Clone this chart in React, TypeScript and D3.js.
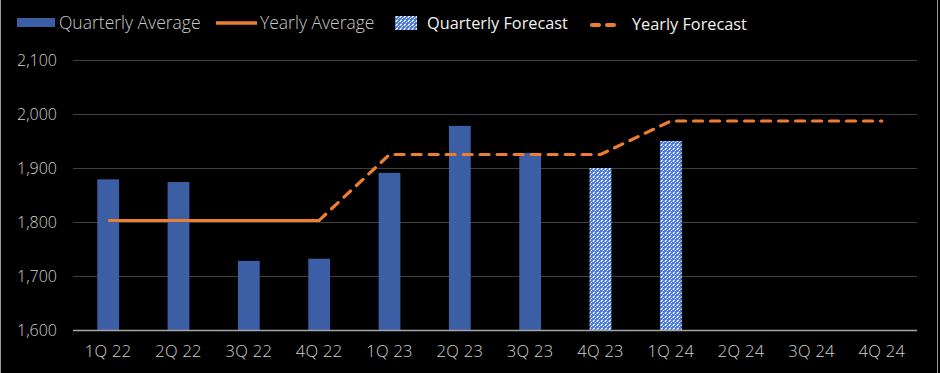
import React, { useEffect, useRef } from 'react';
import * as d3 from 'd3';

const quarters = ['1Q 22', '2Q 22', '3Q 22', '4Q 22', '1Q 23', '2Q 23', '3Q 23', '4Q 23', '1Q 24', '2Q 24', '3Q 24', '4Q 24'];
const quarterlyAverage: (number | null)[] = [1879, 1874, 1728, 1732, 1891, 1978, 1928, null, null, null, null, null];
const quarterlyForecast: (number | null)[] = [null, null, null, null, null, null, null, 1900, 1950, null, null, null];
const yearlyAverage: (number | null)[] = [1803, 1803, 1803, 1803, null, null, null, null, null, null, null, null];
const yearlyForecast: (number | null)[] = [null, null, null, 1803, 1925, 1925, 1925, 1925, 1987, 1987, 1987, 1987];
const yTicks = [1600, 1700, 1800, 1900, 2000, 2100];

const width = 940;
const height = 373;
const BAR = '#3b5ea5';
const ORANGE = '#ed7d31';
const FONT = "'Open Sans', 'Noto Sans', sans-serif";

const App: React.FC = () => {
   const svgRef = useRef<SVGSVGElement | null>(null);

   useEffect(() => {
      if (!svgRef.current) return;
      const svg = d3.select(svgRef.current);
      svg.selectAll('*').remove();

      const margin = { top: 60, right: 23, bottom: 43, left: 73 };
      const innerWidth = width - margin.left - margin.right;
      const innerHeight = height - margin.top - margin.bottom;

      svg.append('rect').attr('width', width).attr('height', height).attr('fill', '#000');
      // frame edges
      svg.append('line').attr('x1', 0.5).attr('x2', 0.5).attr('y1', 0).attr('y2', height).attr('stroke', '#9a9a9a');
      svg.append('line').attr('x1', width - 2.5).attr('x2', width - 2.5).attr('y1', 0).attr('y2', height).attr('stroke', '#9a9a9a');

      // forecast pattern: small blue/white checks
      const defs = svg.append('defs');
      const pat = defs.append('pattern')
         .attr('id', 'fc-pattern')
         .attr('patternUnits', 'userSpaceOnUse')
         .attr('width', 4)
         .attr('height', 4);
      pat.append('rect').attr('width', 4).attr('height', 4).attr('fill', '#4a7ad6');
      pat.append('rect').attr('x', 0).attr('y', 0).attr('width', 2).attr('height', 1).attr('fill', '#dfe8fb');
      pat.append('rect').attr('x', 0).attr('y', 0).attr('width', 1).attr('height', 2).attr('fill', '#dfe8fb');
      pat.append('rect').attr('x', 2).attr('y', 2).attr('width', 1).attr('height', 1).attr('fill', '#ffffff');
      pat.append('rect').attr('x', 3).attr('y', 1).attr('width', 1).attr('height', 1).attr('fill', '#9ab6ec');
      pat.append('rect').attr('x', 1).attr('y', 3).attr('width', 1).attr('height', 1).attr('fill', '#9ab6ec');

      const x = d3.scaleBand().domain(quarters).range([0, innerWidth]).paddingInner(0.69).paddingOuter(0.345);
      const y = d3.scaleLinear().domain([1600, 2100]).range([innerHeight, 0]);
      const cx = (q: string) => x(q)! + x.bandwidth() / 2;

      const g = svg.append('g').attr('transform', `translate(${margin.left},${margin.top})`);

      // gridlines
      g.selectAll('.grid')
         .data(yTicks.slice(1))
         .enter()
         .append('line')
         .attr('x1', 0)
         .attr('x2', innerWidth)
         .attr('y1', d => Math.round(y(d)) + 0.5)
         .attr('y2', d => Math.round(y(d)) + 0.5)
         .attr('stroke', '#3f3f3f')
         .attr('stroke-width', 1);

      // y tick labels
      g.selectAll('.ylab')
         .data(yTicks)
         .enter()
         .append('text')
         .attr('x', -16)
         .attr('y', d => y(d))
         .attr('dy', '0.35em')
         .attr('text-anchor', 'end')
         .attr('fill', '#d0d0d0')
         .attr('font-family', FONT)
         .attr('font-weight', 300)
         .attr('font-size', 16)
         .text(d => d3.format(',')(d));

      // bars
      const barData = quarters.map((q, i) => ({ q, v: quarterlyAverage[i] })).filter(d => d.v != null);
      g.selectAll('.bar')
         .data(barData)
         .enter()
         .append('rect')
         .attr('x', d => x(d.q)!)
         .attr('y', d => y(d.v!))
         .attr('width', x.bandwidth())
         .attr('height', d => innerHeight - y(d.v!))
         .attr('fill', BAR);

      const fcData = quarters.map((q, i) => ({ q, v: quarterlyForecast[i] })).filter(d => d.v != null);
      g.selectAll('.fbar')
         .data(fcData)
         .enter()
         .append('rect')
         .attr('x', d => x(d.q)!)
         .attr('y', d => y(d.v!))
         .attr('width', x.bandwidth())
         .attr('height', d => innerHeight - y(d.v!))
         .attr('fill', 'url(#fc-pattern)');

      // x axis line
      g.append('line')
         .attr('x1', 0)
         .attr('x2', innerWidth)
         .attr('y1', innerHeight + 0.5)
         .attr('y2', innerHeight + 0.5)
         .attr('stroke', '#a6a6a6')
         .attr('stroke-width', 1.5);

      // x labels
      g.selectAll('.xlab')
         .data(quarters)
         .enter()
         .append('text')
         .attr('x', d => cx(d))
         .attr('y', innerHeight + 27)
         .attr('text-anchor', 'middle')
         .attr('fill', '#d0d0d0')
         .attr('font-family', FONT)
         .attr('font-weight', 300)
         .attr('font-size', 16.5)
         .attr('letter-spacing', 0.3)
         .text(d => d);

      // lines
      const line = d3.line<{ q: string; v: number | null }>()
         .defined(d => d.v != null)
         .x(d => cx(d.q))
         .y(d => y(d.v!));

      g.append('path')
         .datum(quarters.map((q, i) => ({ q, v: yearlyAverage[i] })))
         .attr('d', line)
         .attr('fill', 'none')
         .attr('stroke', ORANGE)
         .attr('stroke-width', 3);

      g.append('path')
         .datum(quarters.map((q, i) => ({ q, v: yearlyForecast[i] })))
         .attr('d', line)
         .attr('fill', 'none')
         .attr('stroke', ORANGE)
         .attr('stroke-width', 3.2)
         .attr('stroke-linecap', 'round')
         .attr('stroke-dasharray', '9 8');

      // legend
      const lg = svg.append('g');
      const ly = 23;
      lg.append('rect').attr('x', 17).attr('y', 18).attr('width', 38).attr('height', 9).attr('fill', BAR);
      lg.append('text').attr('x', 59).attr('y', ly).attr('dy', '0.35em')
         .attr('fill', '#c8c8c8').attr('font-family', FONT).attr('font-weight', 300).attr('font-size', 17.5)
         .text('Quarterly Average');
      lg.append('line').attr('x1', 216).attr('x2', 257).attr('y1', ly).attr('y2', ly)
         .attr('stroke', ORANGE).attr('stroke-width', 3.5);
      lg.append('text').attr('x', 260).attr('y', ly).attr('dy', '0.35em')
         .attr('fill', '#c8c8c8').attr('font-family', FONT).attr('font-weight', 300).attr('font-size', 17.5)
         .text('Yearly Average');
      lg.append('rect').attr('x', 395).attr('y', 16).attr('width', 22).attr('height', 14).attr('fill', 'url(#fc-pattern)');
      lg.append('text').attr('x', 427).attr('y', ly).attr('dy', '0.35em')
         .attr('fill', '#f2f2f2').attr('font-family', FONT).attr('font-size', 16.3)
         .text('Quarterly Forecast');
      lg.append('line').attr('x1', 592).attr('x2', 618).attr('y1', ly + 2).attr('y2', ly + 2)
         .attr('stroke', ORANGE).attr('stroke-width', 4).attr('stroke-linecap', 'round')
         .attr('stroke-dasharray', '7 8');
      lg.append('text').attr('x', 632).attr('y', ly + 1).attr('dy', '0.35em')
         .attr('fill', '#f2f2f2').attr('font-family', FONT).attr('font-size', 16.3)
         .text('Yearly Forecast');
   }, []);

   return (
      <svg
         ref={svgRef}
         width={width}
         height={height}
         viewBox={`0 0 ${width} ${height}`}
         style={{ position: 'absolute', left: 0, top: 0, display: 'block' }}
      />
   );
};

export default App;
